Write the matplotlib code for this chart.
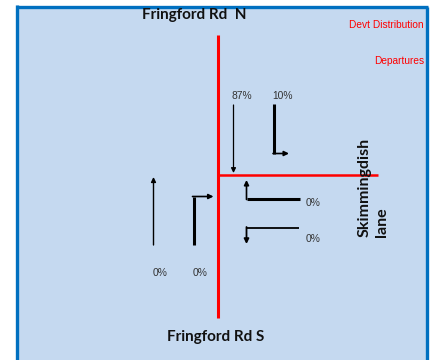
import matplotlib.pyplot as plt
from matplotlib.patches import Rectangle

# turning proportions (departures)
north_labels = ['87%', '10%']   # ahead (south), left into Skimmingdish lane
east_labels = ['0%', '0%']      # left turn north, right turn south
south_labels = ['0%', '0%']     # ahead north, right into Skimmingdish lane

road_names = ['Fringford Rd  N', 'Fringford Rd S', 'Skimmingdish\nlane']
notes = ['Devt Distribution', 'Departures']

RED = '#FF0000'
BG = '#C5D9F0'
FRAME = '#0070C0'
TXT = '#333333'
pct_font = ['Liberation Sans', 'DejaVu Sans']
bold_font = ['Lato', 'DejaVu Sans']

fig = plt.figure(figsize=(4.33, 3.6), dpi=100)
ax = fig.add_axes([0, 0, 1, 1])
ax.set_xlim(0, 433)
ax.set_ylim(360, 0)
ax.axis('off')

# panel background + blue frame (no bottom edge)
ax.add_patch(Rectangle((17, 7), 409, 360, facecolor=BG, edgecolor='none'))
ax.plot([16.5, 16.5], [5, 360], color=FRAME, lw=2.4, solid_capstyle='butt')
ax.plot([15.5, 428], [7, 7], color=FRAME, lw=2.4, solid_capstyle='butt')
ax.plot([426.5, 426.5], [7, 360], color=FRAME, lw=2.4, solid_capstyle='butt')

# roads
ax.plot([217.5, 217.5], [35, 318], color=RED, lw=2.2, solid_capstyle='butt')
ax.plot([217.5, 378], [175, 175], color=RED, lw=1.8, solid_capstyle='butt')


def arrow(x0, y0, x1, y1, lw=1.0):
    ax.annotate('', xy=(x1, y1), xytext=(x0, y0),
                arrowprops=dict(arrowstyle='-|>', color='black', lw=lw,
                                shrinkA=0, shrinkB=0, mutation_scale=7))


# north approach
arrow(233.5, 105, 233.5, 173, lw=0.9)
ax.plot([274, 274], [104, 153.5], color='black', lw=2.2, solid_capstyle='butt')
arrow(273, 153.5, 289, 153.5, lw=1.2)
ax.text(241.5, 96, north_labels[0], ha='center', va='center', fontsize=7.4,
        color=TXT, family=pct_font)
ax.text(282.5, 96, north_labels[1], ha='center', va='center', fontsize=7.4,
        color=TXT, family=pct_font)

# east approach
ax.plot([299.5, 246.5], [198.5, 198.5], color='black', lw=2.2, solid_capstyle='butt')
arrow(246.5, 199.5, 246.5, 180, lw=1.2)
ax.plot([298.5, 246.5], [227.5, 227.5], color='black', lw=1.3, solid_capstyle='butt')
arrow(246.5, 227, 246.5, 244, lw=1.3)
ax.text(313, 203.5, east_labels[0], ha='center', va='center', fontsize=7.4,
        color=TXT, family=pct_font)
ax.text(313, 239.5, east_labels[1], ha='center', va='center', fontsize=7.4,
        color=TXT, family=pct_font)

# south approach
arrow(153.5, 245, 153.5, 177, lw=1.0)
ax.plot([193.5, 193.5], [245, 196.5], color='black', lw=2.2, solid_capstyle='butt')
arrow(192.5, 196.5, 213.5, 196.5, lw=1.2)
ax.text(160, 273.5, south_labels[0], ha='center', va='center', fontsize=7.4,
        color=TXT, family=pct_font)
ax.text(200, 273.5, south_labels[1], ha='center', va='center', fontsize=7.4,
        color=TXT, family=pct_font)

# road names
ax.text(194, 14.5, road_names[0], ha='center', va='center', fontsize=11,
        fontweight='bold', color='#111111', family=bold_font)
ax.text(216, 336.5, road_names[1], ha='center', va='center', fontsize=11,
        fontweight='bold', color='#111111', family=bold_font)
ax.text(373, 187, road_names[2], ha='center', va='center', rotation=90,
        multialignment='left', fontsize=11.5, fontweight='bold',
        color='#111111', family=bold_font, linespacing=1.3)

# notes
ax.text(424, 24.5, notes[0], ha='right', va='center', fontsize=7.3,
        color=RED, family=['Liberation Sans Narrow', 'Liberation Sans'])
ax.text(424, 61, notes[1], ha='right', va='center', fontsize=7.3,
        color=RED, family=['Liberation Sans Narrow', 'Liberation Sans'])

fig.savefig('out.png', dpi=100)
